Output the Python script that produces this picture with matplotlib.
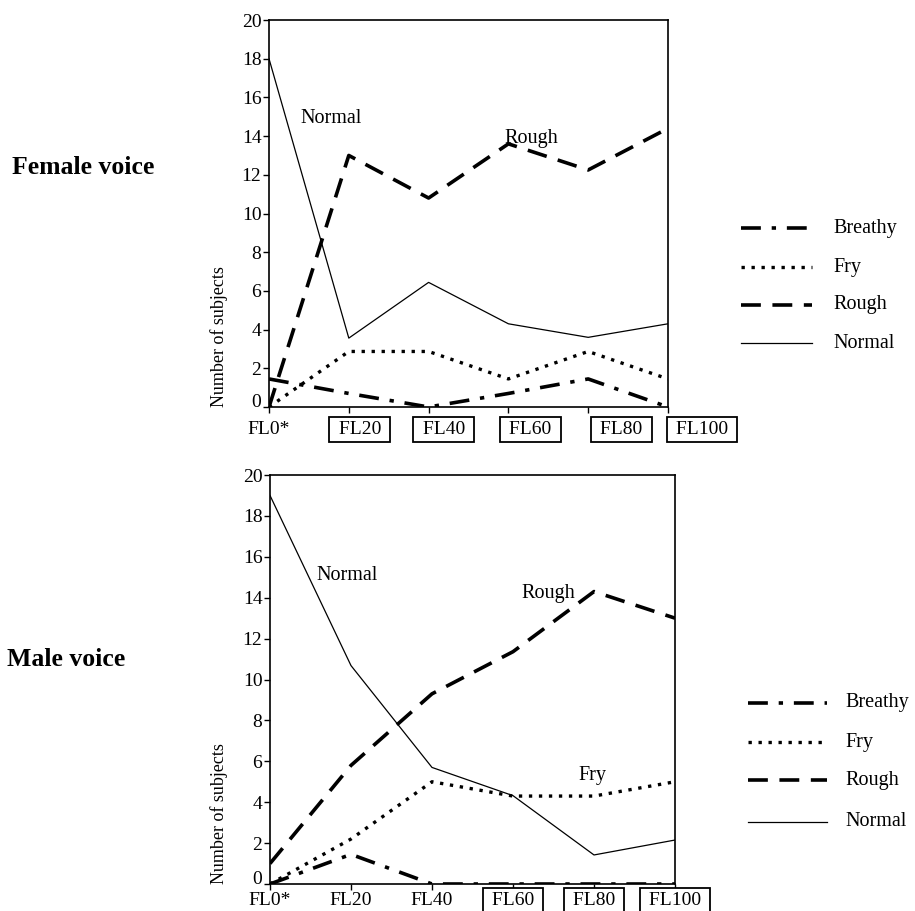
import matplotlib
matplotlib.use("Agg")
import matplotlib.pyplot as plt
from matplotlib.lines import Line2D
from matplotlib.transforms import ScaledTranslation

plt.rcParams['font.family'] = ['Liberation Serif', 'DejaVu Serif']

categories = ["FL0*", "FL20", "FL40", "FL60", "FL80", "FL100"]
series_names = ["Breathy", "Fry", "Rough", "Normal"]

female_breathy = [1.45, 0.7, 0.0, 0.7, 1.45, 0.0]
female_fry = [0.0, 2.87, 2.87, 1.45, 2.87, 1.45]
female_rough = [0.0, 13.0, 10.8, 13.6, 12.25, 14.4]
female_normal = [18.0, 3.56, 6.44, 4.3, 3.6, 4.3]

male_breathy = [0.0, 1.45, 0.0, 0.0, 0.0, 0.0]
male_fry = [0.0, 2.2, 5.0, 4.3, 4.3, 5.0]
male_rough = [1.0, 5.8, 9.3, 11.36, 14.3, 13.0]
male_normal = [19.0, 10.68, 5.7, 4.32, 1.42, 2.15]

yticks = list(range(0, 21, 2))

styles = {
    "Breathy": dict(color="black", lw=2.6, linestyle=(0, (5.5, 3.0, 1.2, 3.0))),
    "Fry": dict(color="black", lw=2.4, linestyle=(0, (1.0, 2.0))),
    "Rough": dict(color="black", lw=2.6, linestyle=(0, (5.5, 3.2))),
    "Normal": dict(color="black", lw=0.9, linestyle="-"),
}

W, H = 915, 911
fig = plt.figure(figsize=(W / 100, H / 100), dpi=100)


def px_axes(l, t, r, b):
    return fig.add_axes([l / W, 1 - b / H, (r - l) / W, (b - t) / H])


def boxed_names(names, boxed):
    return [(" " + n + " ") if b else n for n, b in zip(names, boxed)]


x = list(range(len(categories)))

# Top (female)
ax1 = px_axes(269, 20, 668, 407)
top_boxed = [False, True, True, True, True, True]
ax1_data = [female_breathy, female_fry, female_rough, female_normal]
for name, vals in zip(series_names, ax1_data):
    ax1.plot(x, vals, **styles[name], dash_capstyle="butt")

# Bottom (male)
ax2 = px_axes(270, 475, 675, 884)
bot_boxed = [False, False, False, True, True, True]
ax2_data = [male_breathy, male_fry, male_rough, male_normal]
for name, vals in zip(series_names, ax2_data):
    ax2.plot(x, vals, **styles[name], dash_capstyle="butt")

top_offsets = [0, 11, 15, 22, 33, 34]
bot_offsets = [0, 0, 0, 0, 0, 0]

for ax, boxed, offs, xpad in [(ax1, top_boxed, top_offsets, 6), (ax2, bot_boxed, bot_offsets, 2)]:
    ax.set_xlim(0, len(categories) - 1)
    ax.set_ylim(0, 20)
    ax.set_yticks(yticks)
    ax.set_xticks(x)
    ax.set_xticklabels(boxed_names(categories, boxed))
    ax.tick_params(axis="both", direction="out", length=4, width=1.0, labelsize=14, pad=1.5)
    ax.tick_params(axis="x", pad=xpad)
    for sp in ax.spines.values():
        sp.set_linewidth(1.2)
    for lab, bx, off in zip(ax.get_xticklabels(), boxed, offs):
        if bx:
            lab.set_bbox(dict(boxstyle="square,pad=0.22", facecolor="white",
                              edgecolor="black", linewidth=1.3))
        lab.set_transform(lab.get_transform() + ScaledTranslation(off / 100, 0, fig.dpi_scale_trans))
    # the "0" tick label sits a little above the axis line
    zero_lab = ax.get_yticklabels()[0]
    zero_lab.set_transform(zero_lab.get_transform() + ScaledTranslation(0, 7 / 100, fig.dpi_scale_trans))
    ax.set_ylabel("Number of subjects", fontsize=13)
    ax.yaxis.set_label_coords(-0.125, 0.0)
    ax.yaxis.label.set_va("center")
    ax.yaxis.label.set_ha("left")

# In-plot annotations
ax1.text(0.78, 14.9, "Normal", fontsize=14.5, ha="center", va="center")
ax1.text(3.29, 13.9, "Rough", fontsize=14.5, ha="center", va="center")
ax2.text(0.95, 15.1, "Normal", fontsize=14.5, ha="center", va="center")
ax2.text(3.43, 14.2, "Rough", fontsize=14.5, ha="center", va="center")
ax2.text(3.98, 5.33, "Fry", fontsize=14.5, ha="center", va="center")

# Panel titles
fig.text(12 / W, 1 - 167 / H, "Female voice", fontsize=18.5, fontweight="bold", ha="left", va="center")
fig.text(7 / W, 1 - 659 / H, "Male voice", fontsize=18.5, fontweight="bold", ha="left", va="center")


# Legends (manual, positioned to the right of each panel)
def legend_at(x0, x1, xt, rows):
    for name, y in zip(series_names, rows):
        fig.add_artist(Line2D([x0 / W, x1 / W], [1 - y / H, 1 - y / H], **styles[name],
                              dash_capstyle="butt"))
        fig.text(xt / W, 1 - y / H, name, fontsize=14.5, ha="left", va="center")


legend_at(741, 812, 833, [228, 267, 305, 343])
legend_at(748, 827, 845, [703, 742, 780, 822])

fig.savefig("out.png", dpi=100)
